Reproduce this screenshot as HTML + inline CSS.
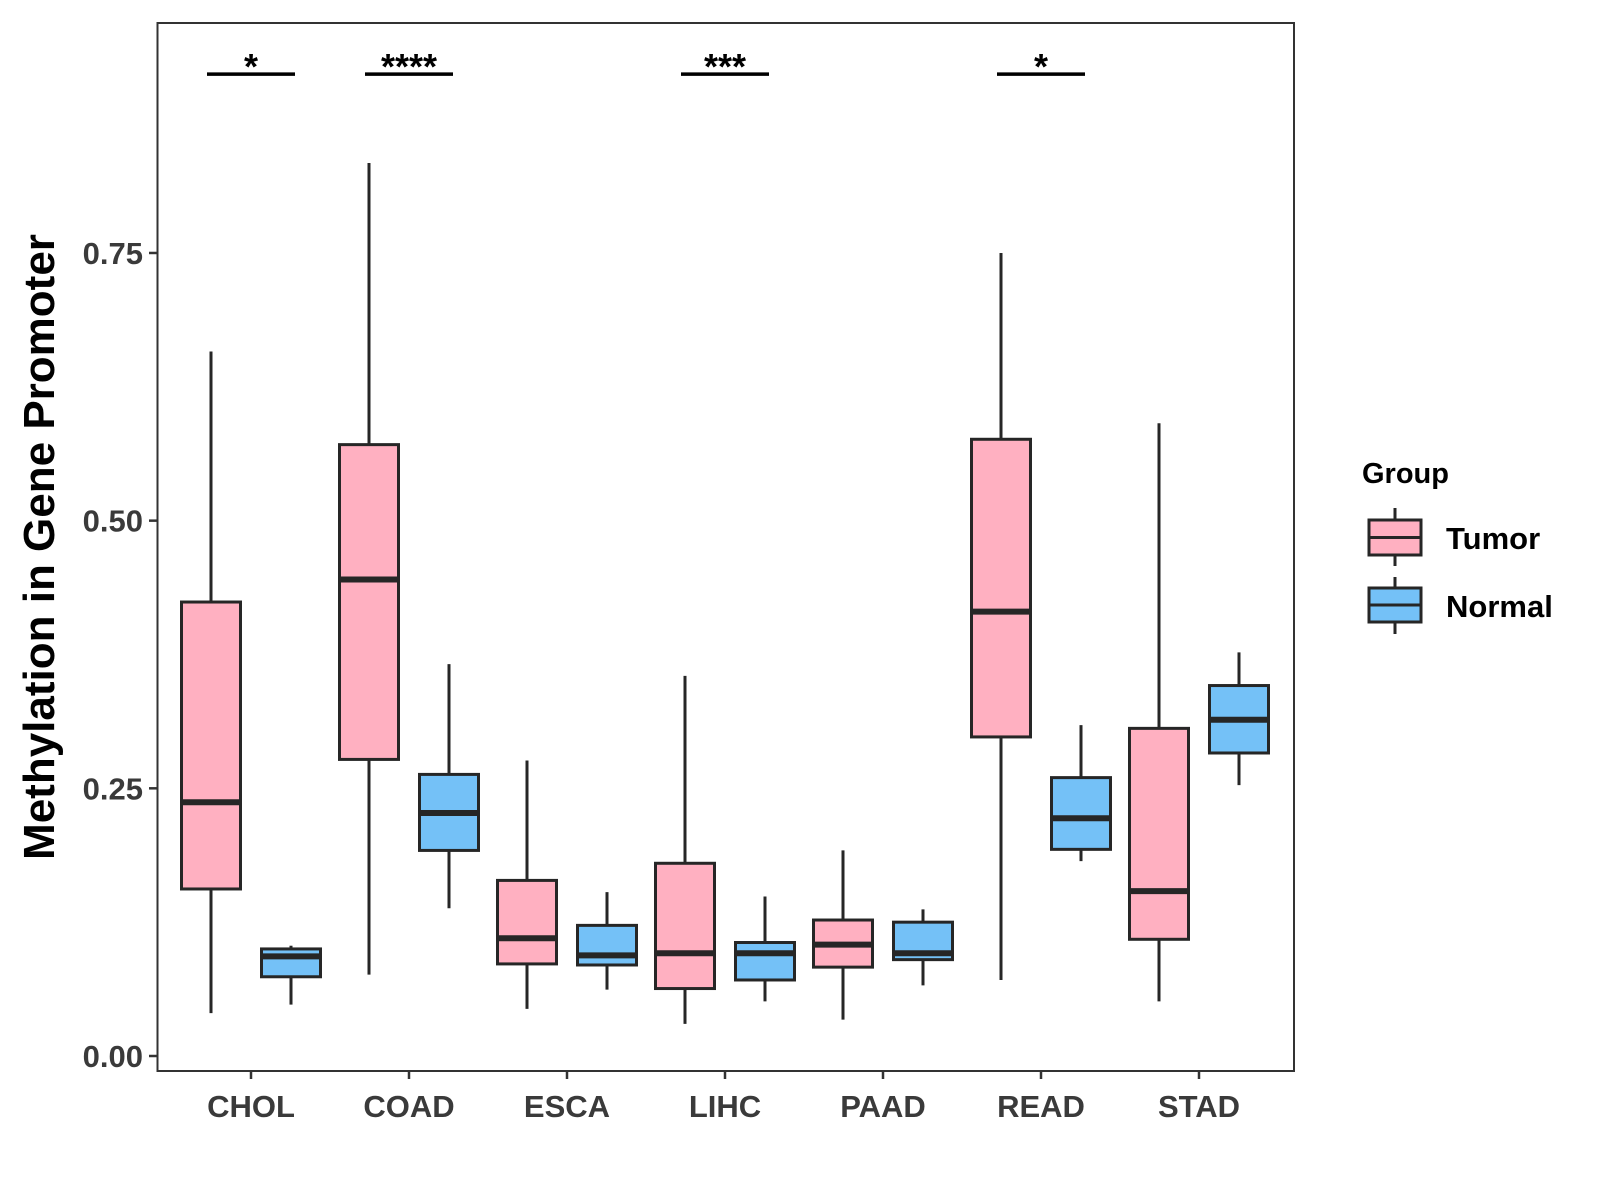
<!DOCTYPE html>
<html><head><meta charset="utf-8"><style>
body{margin:0;background:#fff}
svg{display:block;font-family:"Liberation Sans",Arial,sans-serif;font-weight:bold}
</style></head><body>
<svg id="chart" width="1600" height="1200" viewBox="0 0 1600 1200">
<rect x="0" y="0" width="1600" height="1200" fill="#fff"/>
<g id="plot"></g>
<rect x="157.5" y="23" width="1136.5" height="1048" fill="none" stroke="#333" stroke-width="2"/>
<text transform="translate(54,547) rotate(-90)" text-anchor="middle" font-size="44" fill="#000">Methylation in Gene Promoter</text>
<g>
<text x="1362" y="483" font-size="29" fill="#000">Group</text>
<g>
<line x1="1395" y1="508" x2="1395" y2="566" stroke="#262626" stroke-width="3"/>
<rect x="1369" y="520" width="52" height="35" fill="#FFB0C1" stroke="#262626" stroke-width="3"/>
<line x1="1369" y1="537.5" x2="1421" y2="537.5" stroke="#262626" stroke-width="3"/>
<text x="1446" y="549" font-size="31" fill="#000">Tumor</text>
</g>
<g>
<line x1="1395" y1="577" x2="1395" y2="634" stroke="#262626" stroke-width="3"/>
<rect x="1369" y="588" width="52" height="34" fill="#74C1F7" stroke="#262626" stroke-width="3"/>
<line x1="1369" y1="605" x2="1421" y2="605" stroke="#262626" stroke-width="3"/>
<text x="1446" y="617" font-size="31" fill="#000">Normal</text>
</g>
</g>
</svg>
<script>
const categories=["CHOL","COAD","ESCA","LIHC","PAAD","READ","STAD"];
const tumorStats=[[0.040,0.156,0.237,0.424,0.658],[0.076,0.277,0.445,0.571,0.834],[0.044,0.086,0.110,0.164,0.276],[0.030,0.063,0.096,0.180,0.355],[0.034,0.083,0.104,0.127,0.192],[0.071,0.298,0.415,0.576,0.750],[0.051,0.109,0.154,0.306,0.591]];
const normalStats=[[0.048,0.074,0.093,0.100,0.103],[0.138,0.192,0.227,0.263,0.366],[0.062,0.085,0.094,0.122,0.153],[0.051,0.071,0.096,0.106,0.149],[0.066,0.090,0.096,0.125,0.137],[0.182,0.193,0.222,0.260,0.309],[0.253,0.283,0.314,0.346,0.377]];
const yTicks=[0,0.25,0.5,0.75];
const yTickLabels=["0.00","0.25","0.50","0.75"];
const sigCategories=["CHOL","COAD","LIHC","READ"];
const sigLabels=["*","****","***","*"];
const sigLevel=0.917;

const NS="http://www.w3.org/2000/svg";
const plot=document.getElementById('plot');
const y=v=>1056-v*1070.7;
const x=i=>251+i*158;
function mk(tag,attrs,parent){const e=document.createElementNS(NS,tag);for(const k in attrs)e.setAttribute(k,attrs[k]);(parent||plot).appendChild(e);return e;}

yTicks.forEach((t,i)=>{
  const g=mk('g',{});
  
  
  mk('line',{x1:149,x2:157,y1:y(t),y2:y(t),stroke:'#333','stroke-width':2.5},g);
  mk('text',{x:143,y:y(t)+11,'text-anchor':'end','font-size':31,fill:'#3a3a3a'},g).textContent=yTickLabels[i];
});
categories.forEach((c,i)=>{
  const g=mk('g',{});
  
  
  mk('line',{x1:x(i),x2:x(i),y1:1071,y2:1079,stroke:'#333','stroke-width':2.5},g);
  mk('text',{x:x(i),y:1117,'text-anchor':'middle','font-size':31,fill:'#3a3a3a'},g).textContent=c;
});
function box(s,cx,fill,name){
  const g=mk('g',{});
  
  
  const hw=29.5;
  mk('line',{x1:cx,x2:cx,y1:y(s[0]),y2:y(s[4]),stroke:'#262626','stroke-width':3},g);
  mk('rect',{x:cx-hw,y:y(s[3]),width:2*hw,height:y(s[1])-y(s[3]),fill:fill,stroke:'#262626','stroke-width':3},g);
  mk('line',{x1:cx-hw,x2:cx+hw,y1:y(s[2]),y2:y(s[2]),stroke:'#262626','stroke-width':6},g);
}
categories.forEach((c,i)=>{
  box(tumorStats[i],x(i)-40,'#FFB0C1','box-tumor-'+c.toLowerCase());
  box(normalStats[i],x(i)+40,'#74C1F7','box-normal-'+c.toLowerCase());
});
sigCategories.forEach((c,j)=>{
  const i=categories.indexOf(c);
  const g=mk('g',{});
  
  
  mk('line',{x1:x(i)-44,x2:x(i)+44,y1:y(sigLevel),y2:y(sigLevel),stroke:'#000','stroke-width':3.5},g);
  mk('text',{x:x(i),y:y(sigLevel)+5,'text-anchor':'middle','font-size':36,fill:'#000'},g).textContent=sigLabels[j];
});
</script>
</body></html>
